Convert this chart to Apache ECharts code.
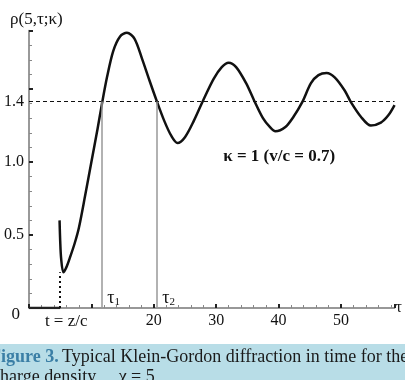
<!DOCTYPE html>
<html>
<head>
<meta charset="utf-8">
<script src="https://cdn.jsdelivr.net/npm/echarts@6/dist/echarts.min.js"></script>
<style>html,body{margin:0;padding:0;background:#fff}#c{width:405px;height:380px}</style>
</head>
<body>
<div id="c"></div>
<script>
// ---- data ----
const tValues   = [4.9, 5.0, 5.15, 5.5, 6.0, 6.6, 7.3, 8.0, 9.0, 10.0, 11.0, 11.7, 12.5, 13.5, 14.6, 15.7, 16.9, 18.1, 19.3, 20.5, 21.7, 22.8, 23.8, 25.0, 26.4, 28.0, 29.6, 30.9, 32.0, 33.2, 34.8, 36.1, 37.5, 38.6, 39.5, 41.1, 42.4, 43.8, 45.2, 46.4, 47.7, 49.0, 50.6, 51.6, 53.2, 54.8, 56.4, 57.6, 58.6];
const rhoValues = [0.60, 0.46, 0.34, 0.245, 0.28, 0.35, 0.44, 0.55, 0.77, 1.00, 1.23, 1.40, 1.58, 1.76, 1.86, 1.885, 1.845, 1.71, 1.56, 1.415, 1.28, 1.18, 1.13, 1.17, 1.28, 1.43, 1.57, 1.65, 1.68, 1.65, 1.54, 1.42, 1.30, 1.24, 1.21, 1.24, 1.31, 1.41, 1.54, 1.595, 1.61, 1.58, 1.49, 1.41, 1.31, 1.25, 1.27, 1.32, 1.39];
const zeroT     = [0, 5];
const zeroRho   = [0, 0];
const asymptote = 1.414;      // dashed level, labelled 1.4
const tau1 = 11.65, tau2 = 20.5;
const frontT = 5;             // t = z/c
const frontMin = 0.245;
const xLabelValues = [5, 20, 30, 40, 50];
const yLabelValues = [0, 0.5, 1.0, 1.414];

const serif = '"Liberation Serif", "DejaVu Serif", serif';
const chart = echarts.init(document.getElementById('c'), null, {renderer: 'canvas'});

const curve = tValues.map((t, i) => [t, rhoValues[i]]);
const zeroLine = zeroT.map((t, i) => [t, zeroRho[i]]);

chart.setOption({
  animation: false,
  backgroundColor: '#fff',
  title: {
    text: 'ρ(5,τ;κ)', left: 5, top: 6,
    textStyle: {fontFamily: serif, fontSize: 17, fontWeight: 'normal', color: '#111'}
  },
  grid: {left: 29, right: 4, top: 30.6, bottom: 72, containLabel: false},
  xAxis: {
    type: 'value', min: 0, max: 58.6, interval: 10,
    name: 'τ', nameLocation: 'end', nameGap: 1,
    nameTextStyle: {fontFamily: serif, fontSize: 16, color: '#222', verticalAlign: 'middle'},
    axisLine: {show: true, lineStyle: {color: '#777', width: 1.5}},
    axisTick: {show: true, inside: true, length: 4, lineStyle: {color: '#222', width: 2}},
    minorTick: {show: true, splitNumber: 5, length: 3, lineStyle: {color: '#888', width: 1}},
    splitLine: {show: false},
    axisLabel: {
      customValues: xLabelValues, margin: 5,
      fontFamily: serif, fontSize: 16, color: '#111',
      formatter: v => (Math.abs(v - frontT) < 1e-6 ? '{f|t = z/c}' : String(v)),
      rich: {f: {fontFamily: serif, fontSize: 17, color: '#111', padding: [0, 0, 0, 12]}}
    }
  },
  yAxis: {
    type: 'value', min: 0, max: 1.9, interval: 0.5,
    axisLine: {show: true, lineStyle: {color: '#777', width: 1.5}},
    axisTick: {show: true, inside: true, length: 4, lineStyle: {color: '#222', width: 2}},
    minorTick: {show: true, splitNumber: 5, length: 3, lineStyle: {color: '#888', width: 1}},
    splitLine: {show: false},
    axisLabel: {
      customValues: yLabelValues, margin: 5,
      fontFamily: serif, fontSize: 16, color: '#111',
      formatter: v => {
        if (v === 0) return '{z|0}';
        if (Math.abs(v - asymptote) < 1e-6) return '1.4';
        return v.toFixed(1);
      },
      rich: {z: {fontFamily: serif, fontSize: 17, color: '#111', padding: [14, 4, 0, 0]}}
    }
  },
  series: [
    {
      type: 'line', data: zeroLine, symbol: 'none', z: 3,
      lineStyle: {color: '#222', width: 2.5}
    },
    {
      type: 'line', data: curve, symbol: 'none', smooth: 0.3, z: 4,
      lineStyle: {color: '#111', width: 2.5},
      markLine: {
        silent: true, symbol: 'none', animation: false,
        label: {show: false},
        data: [
          [{coord: [0, asymptote], lineStyle: {color: '#111', width: 1, type: [4, 3]}}, {coord: [58.6, asymptote]}],
          [{coord: [tau1, 0], lineStyle: {color: '#999', width: 1.5, type: 'solid'}}, {coord: [tau1, asymptote]}],
          [{coord: [tau2, 0], lineStyle: {color: '#999', width: 1.5, type: 'solid'}}, {coord: [tau2, asymptote]}],
          [{coord: [frontT, 0], lineStyle: {color: '#111', width: 2, type: [2, 3]}}, {coord: [frontT, frontMin]}]
        ]
      },
      markPoint: {
        silent: true, symbol: 'circle', symbolSize: 0,
        data: [
          {coord: [tau1 + 1.9, 0.07], label: {show: true, formatter: 'τ{s|1}'}},
          {coord: [tau2 + 1.9, 0.07], label: {show: true, formatter: 'τ{s|2}'}},
          {coord: [40.1, 1.035], label: {show: true, formatter: 'κ = 1 (v/c = 0.7)', fontWeight: 'bold', fontSize: 17}}
        ],
        label: {
          position: 'inside', fontFamily: serif, fontSize: 18, color: '#111',
          rich: {s: {fontFamily: serif, fontSize: 11, color: '#111', padding: [9, 0, 0, 0]}}
        }
      }
    }
  ],
  graphic: [
    {type: 'rect', left: 0, top: 344, shape: {width: 405, height: 36}, style: {fill: '#b8dde7'}, z: -1},
    {type: 'text', left: -10, top: 348, style: {
      text: '{b|Figure 3.} {n|Typical Klein-Gordon diffraction in time for the}',
      rich: {
        b: {fontFamily: serif, fontSize: 18, fontWeight: 'bold', fill: '#3b7fa6'},
        n: {fontFamily: serif, fontSize: 18, fill: '#1a1a1a'}
      }
    }},
    {type: 'text', left: -8, top: 368, style: {
      text: 'charge density     χ = 5', fontFamily: serif, fontSize: 18, fill: '#1a1a1a'
    }}
  ]
});
</script>
</body>
</html>
